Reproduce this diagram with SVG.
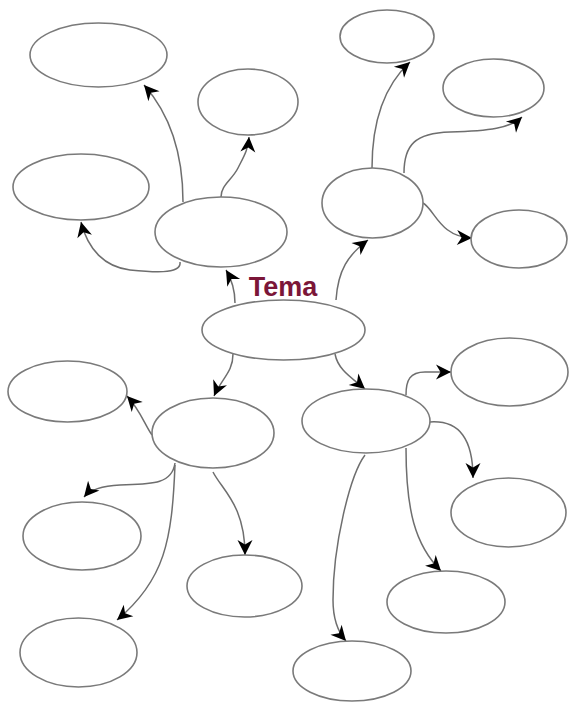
<svg xmlns="http://www.w3.org/2000/svg" width="569" height="702" viewBox="0 0 569 702">
<style>
.node ellipse{fill:#fff;stroke:#7a7a7a;stroke-width:1.6}
.edges path{fill:none;stroke:#6e6e6e;stroke-width:1.5;marker-end:url(#arr)}
.title{font-family:"Liberation Sans",Arial,sans-serif;font-weight:bold;font-size:27px;fill:#7b1638}
</style>
<defs>
<marker id="arr" markerUnits="userSpaceOnUse" viewBox="-1 -9 18 18" refX="15" refY="0" markerWidth="18" markerHeight="18" orient="auto">
<path d="M0,-7.5 L15,0 L0,7.5 L4.5,0 z" fill="#000" stroke="none"/>
</marker>
</defs>
<rect width="569" height="702" fill="#fff"/>
<g class="edges">
<path d="M183,202 C183,150 168,112 144,85"/>
<path d="M221,197 C221,185 232,180 238,168 C244,156 248,150 249,137"/>
<path d="M180,262 C182,275 150,272 130,270 C105,267 88,250 81,222"/>
<path d="M235,303 C235,290 232,280 226,270"/>
<path d="M372,168 C372,120 385,85 410,62"/>
<path d="M404,173 C404,145 415,133 450,132 C490,131 510,128 522,117"/>
<path d="M423,203 C435,210 440,237 472,238"/>
<path d="M336,300 C338,270 348,255 368,240"/>
<path d="M233,354 C233,372 222,378 214,396"/>
<path d="M152,435 C145,425 140,410 127,396"/>
<path d="M175,463 C172,485 150,484 120,485 C100,486 90,490 84,497"/>
<path d="M175,465 C172,540 165,580 117,620"/>
<path d="M213,472 C222,490 245,505 245,555"/>
<path d="M335,354 C338,370 352,378 365,389"/>
<path d="M406,395 C406,380 410,372 425,372 L451,372"/>
<path d="M430,422 C460,420 473,440 473,478"/>
<path d="M406,448 C406,510 415,545 441,571"/>
<path d="M365,455 C350,475 333,545 333,600 C333,620 338,632 346,641"/>
</g>
<g id="nodeA" class="node"><ellipse cx="98.5" cy="55" rx="68.5" ry="32"/></g>
<g id="nodeB" class="node"><ellipse cx="248" cy="102" rx="50" ry="33"/></g>
<g id="nodeC" class="node"><ellipse cx="81" cy="187" rx="68" ry="33"/></g>
<g id="nodeD" class="node"><ellipse cx="221" cy="232" rx="66" ry="35"/></g>
<g id="nodeE" class="node"><ellipse cx="387" cy="36.5" rx="47" ry="26.5"/></g>
<g id="nodeF" class="node"><ellipse cx="493.5" cy="88" rx="50.5" ry="29"/></g>
<g id="nodeG" class="node"><ellipse cx="372.5" cy="203" rx="50.5" ry="35"/></g>
<g id="nodeH" class="node"><ellipse cx="519" cy="239" rx="48" ry="29"/></g>
<g id="tema" class="node"><ellipse cx="283.5" cy="330" rx="81.5" ry="30"/><text class="title" x="283" y="296" text-anchor="middle">Tema</text></g>
<g id="nodeK" class="node"><ellipse cx="67.5" cy="391.5" rx="59.5" ry="30.5"/></g>
<g id="nodeJ" class="node"><ellipse cx="213" cy="433" rx="61" ry="35"/></g>
<g id="nodeL" class="node"><ellipse cx="82" cy="536" rx="59" ry="34"/></g>
<g id="nodeM" class="node"><ellipse cx="244.5" cy="586" rx="57.5" ry="31"/></g>
<g id="nodeN" class="node"><ellipse cx="78.5" cy="652.5" rx="58.5" ry="34.5"/></g>
<g id="nodeO" class="node"><ellipse cx="366" cy="421" rx="64" ry="32"/></g>
<g id="nodeP" class="node"><ellipse cx="509.5" cy="372" rx="58.5" ry="34"/></g>
<g id="nodeQ" class="node"><ellipse cx="508.5" cy="512.5" rx="57.5" ry="34.5"/></g>
<g id="nodeR" class="node"><ellipse cx="446" cy="602" rx="59" ry="31"/></g>
<g id="nodeS" class="node"><ellipse cx="352" cy="671" rx="59" ry="30"/></g>
</svg>
